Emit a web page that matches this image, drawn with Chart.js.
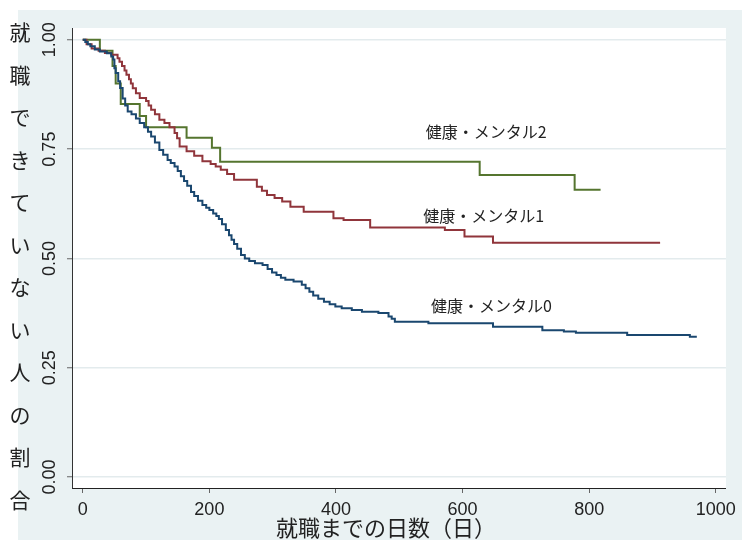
<!DOCTYPE html>
<html>
<head>
<meta charset="utf-8">
<script src="https://cdn.jsdelivr.net/npm/chart.js@4/dist/chart.umd.min.js"></script>
<style>
  html, body { margin: 0; padding: 0; background: #fff; }
  #wrap { width: 742px; height: 543px; }
</style>
</head>
<body>
<div id="wrap"><canvas id="kmChart"></canvas></div>
<script>
// Kaplan-Meier curves: days until employment, share not yet employed
let days0 = [0, 4, 8, 12, 19, 27, 38, 45, 48, 50, 52, 56, 59, 63, 67, 71, 77, 84, 90, 97, 103, 108, 114, 121, 127, 134, 139, 145, 150, 155, 160, 165, 171, 176, 182, 189, 195, 200, 206, 211, 215, 220, 226, 231, 235, 239, 244, 250, 256, 263, 272, 284, 292, 299, 306, 313, 320, 333, 346, 352, 358, 364, 372, 381, 390, 399, 409, 425, 441, 467, 483, 488, 493, 546, 648, 726, 760, 779, 860, 959, 970];
let surv0 = [1.0, 0.995, 0.99, 0.985, 0.978, 0.973, 0.969, 0.962, 0.955, 0.935, 0.924, 0.905, 0.89, 0.866, 0.85, 0.836, 0.83, 0.82, 0.81, 0.80, 0.79, 0.779, 0.765, 0.748, 0.737, 0.725, 0.718, 0.71, 0.70, 0.688, 0.677, 0.666, 0.652, 0.643, 0.632, 0.622, 0.616, 0.611, 0.603, 0.597, 0.59, 0.578, 0.565, 0.553, 0.543, 0.533, 0.522, 0.508, 0.50, 0.494, 0.489, 0.485, 0.476, 0.468, 0.462, 0.456, 0.451, 0.447, 0.44, 0.432, 0.424, 0.415, 0.408, 0.401, 0.395, 0.39, 0.386, 0.382, 0.378, 0.375, 0.367, 0.362, 0.355, 0.352, 0.344, 0.336, 0.333, 0.33, 0.325, 0.321, 0.321];

let days1 = [0, 6, 14, 25, 35, 45, 55, 58, 62, 66, 69, 73, 76, 79, 84, 90, 100, 104, 108, 114, 121, 129, 137, 145, 149, 153, 164, 176, 189, 202, 210, 218, 228, 239, 275, 283, 291, 303, 315, 328, 349, 396, 412, 454, 572, 603, 648, 912];
let surv1 = [1.0, 0.99, 0.98, 0.975, 0.97, 0.966, 0.958, 0.95, 0.94, 0.93, 0.92, 0.91, 0.90, 0.889, 0.878, 0.867, 0.86, 0.85, 0.84, 0.83, 0.817, 0.81, 0.80, 0.787, 0.775, 0.756, 0.745, 0.735, 0.722, 0.716, 0.71, 0.703, 0.693, 0.68, 0.664, 0.655, 0.645, 0.638, 0.63, 0.618, 0.607, 0.592, 0.588, 0.571, 0.565, 0.55, 0.536, 0.536];

let days2 = [0, 27, 47, 52, 60, 90, 100, 164, 204, 217, 627, 777, 818];
let surv2 = [1.0, 0.975, 0.94, 0.90, 0.853, 0.826, 0.80, 0.776, 0.753, 0.721, 0.691, 0.657, 0.657];

let groupNames = ['健康・メンタル0', '健康・メンタル1', '健康・メンタル2'];
let groupColors = ['#1a476f', '#90353b', '#55752f'];
// label anchor (left edge, vertical centre) in data units
let labelDays = [550, 538, 542];
let labelSurv = [0.391, 0.597, 0.789];

let xTicks = [0, 200, 400, 600, 800, 1000];
let yTicks = [0, 0.25, 0.5, 0.75, 1.0];
let xTitle = '就職までの日数（日）';
let yTitle = '就職できていない人の割合';

let allDays = [days0, days1, days2];
let allSurv = [surv0, surv1, surv2];

let datasets = allDays.map((d, g) => ({
    label: groupNames[g],
    data: d.map((t, i) => ({ x: t, y: allSurv[g][i] })),
    borderColor: groupColors[g],
    borderWidth: 2,
    stepped: true,
    pointRadius: 0,
    fill: false
}));

let numFont = '"Liberation Sans", Arial, sans-serif';
let jpFont = '"Noto Sans CJK JP", "Noto Sans", sans-serif';

let stataFrame = {
    id: 'stataFrame',
    beforeDraw(chart) {
        let c = chart.ctx, a = chart.chartArea;
        c.save();
        c.fillStyle = '#eaf2f3';
        c.fillRect(18, 10, chart.width - 18, chart.height - 13);
        c.fillStyle = '#ffffff';
        c.fillRect(a.left, a.top, a.right - a.left, a.bottom - a.top);
        c.restore();
    },
    afterDraw(chart) {
        let c = chart.ctx, a = chart.chartArea;
        let xs = chart.scales.x, ys = chart.scales.y;
        c.save();
        c.fillStyle = '#222';

        // rotated y tick labels
        c.font = '18px ' + numFont;
        c.textAlign = 'center';
        c.textBaseline = 'middle';
        yTicks.forEach(v => {
            c.save();
            c.translate(a.left - 22, ys.getPixelForValue(v));
            c.rotate(-Math.PI / 2);
            c.fillText(v.toFixed(2), 0, 0);
            c.restore();
        });

        // stacked y title
        c.font = '21px ' + jpFont;
        let chars = Array.from(yTitle);
        let top = a.top + 4, bot = a.bottom + 12;
        chars.forEach((ch, i) => {
            c.fillText(ch, 20, top + (bot - top) * i / (chars.length - 1));
        });

        // x title
        c.font = '22px ' + jpFont;
        c.fillText(xTitle, (a.left + a.right) / 2 - 13, a.bottom + 40);

        // curve labels
        c.font = '16px ' + jpFont;
        c.textAlign = 'left';
        groupNames.forEach((name, g) => {
            c.fillText(name, xs.getPixelForValue(labelDays[g]), ys.getPixelForValue(labelSurv[g]));
        });
        c.restore();
    }
};

let ctx = document.getElementById('kmChart').getContext('2d');
let kmChart = new Chart(ctx, {
    type: 'line',
    data: { datasets: datasets },
    options: {
        responsive: true,
        maintainAspectRatio: false,
        animation: false,
        layout: { padding: { top: 28, right: 11, left: 0, bottom: 0 } },
        plugins: {
            legend: { display: false },
            tooltip: { enabled: false }
        },
        scales: {
            x: {
                type: 'linear',
                min: -17,
                max: 1016,
                afterBuildTicks: s => { s.ticks = xTicks.map(v => ({ value: v })); },
                afterFit: s => { s.height = 55; },
                ticks: {
                    color: '#222',
                    font: { family: numFont, size: 18 },
                    padding: 6,
                    maxRotation: 0,
                    callback: v => String(v)
                },
                grid: { drawOnChartArea: false, tickLength: 5, tickColor: '#666', tickWidth: 1 },
                border: { display: true, color: '#222', width: 1 }
            },
            y: {
                type: 'linear',
                min: -0.025,
                max: 1.027,
                afterBuildTicks: s => { s.ticks = yTicks.map(v => ({ value: v })); },
                afterFit: s => { s.width = 72; },
                ticks: { display: false },
                grid: { color: '#e3ebed', lineWidth: 1.5, tickLength: 5, tickColor: '#666', tickWidth: 1 },
                border: { display: true, color: '#333', width: 1 }
            }
        }
    },
    plugins: [stataFrame]
});
</script>
</body>
</html>
